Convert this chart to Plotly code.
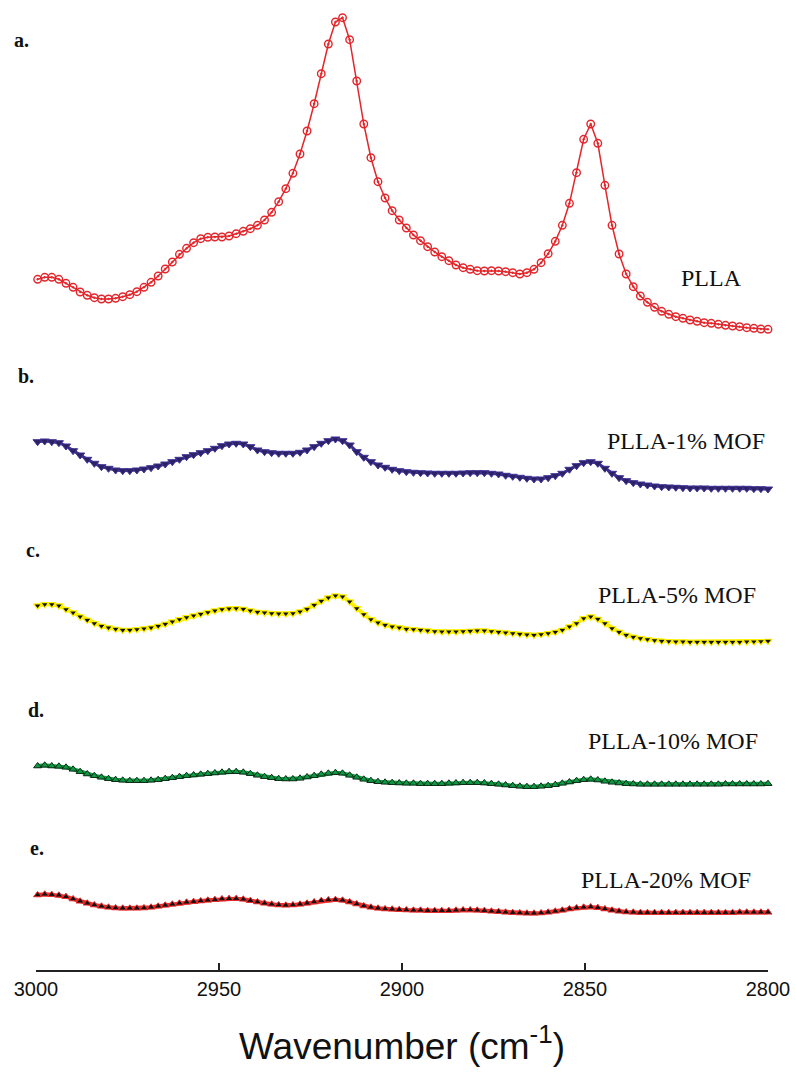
import plotly.graph_objects as go

# Wavenumber grid (cm^-1)
wavenumber = [
    2999.56, 2997.62, 2995.69, 2993.75, 2991.81, 2989.87, 2987.94, 2986.00, 2984.06, 2982.12,
    2980.19, 2978.25, 2976.31, 2974.37, 2972.44, 2970.50, 2968.56, 2966.62, 2964.69, 2962.75,
    2960.81, 2958.87, 2956.94, 2955.00, 2953.06, 2951.12, 2949.19, 2947.25, 2945.31, 2943.37,
    2941.44, 2939.50, 2937.56, 2935.62, 2933.69, 2931.75, 2929.81, 2927.87, 2925.94, 2924.00,
    2922.06, 2920.12, 2918.19, 2916.25, 2914.31, 2912.37, 2910.44, 2908.50, 2906.56, 2904.62,
    2902.69, 2900.75, 2898.81, 2896.87, 2894.94, 2893.00, 2891.06, 2889.12, 2887.19, 2885.25,
    2883.31, 2881.37, 2879.44, 2877.50, 2875.56, 2873.62, 2871.69, 2869.75, 2867.81, 2865.87,
    2863.94, 2862.00, 2860.06, 2858.12, 2856.19, 2854.25, 2852.31, 2850.37, 2848.44, 2846.50,
    2844.56, 2842.62, 2840.69, 2838.75, 2836.81, 2834.87, 2832.94, 2831.00, 2829.06, 2827.12,
    2825.19, 2823.25, 2821.31, 2819.37, 2817.44, 2815.50, 2813.56, 2811.62, 2809.69, 2807.75,
    2805.81, 2803.87, 2801.94, 2800.00,
]

# Stacked (offset) intensities, arbitrary units
plla = [
    690.7, 692.7, 692.7, 690.7, 686.7, 682.7, 678.0, 674.7, 672.3, 671.0,
    671.0, 671.7, 673.3, 675.3, 678.3, 682.7, 687.7, 694.0, 701.0, 708.0,
    715.7, 721.7, 727.3, 731.3, 732.7, 733.0, 733.0, 734.0, 736.3, 738.7,
    741.3, 744.7, 750.0, 757.7, 768.3, 781.3, 796.7, 816.0, 839.0, 866.3,
    896.3, 926.0, 948.0, 952.3, 930.3, 889.0, 846.0, 812.3, 788.3, 772.0,
    759.3, 750.0, 742.0, 735.0, 729.3, 723.3, 718.0, 713.3, 709.3, 705.0,
    702.3, 700.7, 699.3, 699.0, 699.3, 699.0, 698.3, 697.3, 696.0, 697.3,
    700.7, 707.3, 716.3, 728.7, 744.7, 766.7, 797.3, 830.7, 846.0, 826.7,
    784.7, 744.7, 716.0, 696.0, 683.3, 674.0, 667.7, 662.7, 658.7, 655.7,
    653.3, 651.7, 650.0, 648.7, 647.3, 646.7, 645.7, 644.7, 644.0, 643.3,
    642.3, 641.7, 641.0, 640.7,
]

mof1 = [
    528.3, 529.0, 528.3, 527.3, 524.0, 519.3, 515.0, 510.7, 506.7, 503.3,
    501.7, 500.0, 499.3, 499.3, 500.0, 501.0, 502.3, 504.0, 506.0, 508.3,
    510.7, 513.3, 515.3, 517.3, 519.3, 521.7, 524.3, 526.0, 526.7, 526.0,
    523.3, 520.0, 518.3, 517.3, 516.7, 516.7, 516.7, 517.7, 520.0, 523.3,
    526.7, 529.3, 531.0, 529.3, 525.0, 518.3, 512.7, 508.3, 505.0, 502.7,
    500.7, 499.3, 498.3, 497.7, 497.3, 497.0, 496.7, 496.7, 496.7, 496.7,
    497.0, 497.3, 497.3, 497.3, 496.7, 496.0, 494.7, 493.7, 492.7, 491.7,
    491.0, 491.0, 492.3, 494.3, 496.7, 500.7, 504.3, 507.3, 508.3, 506.7,
    501.7, 496.7, 492.3, 489.3, 487.3, 486.0, 485.0, 484.0, 483.3, 483.0,
    482.7, 482.3, 482.0, 482.0, 482.0, 481.7, 481.7, 481.7, 481.7, 481.7,
    481.7, 481.3, 481.3, 481.0,
]

mof5 = [
    364.3, 365.7, 365.7, 364.3, 360.7, 357.3, 353.3, 350.0, 346.7, 344.0,
    342.3, 341.0, 340.0, 340.0, 340.7, 341.3, 342.3, 344.0, 346.0, 348.3,
    350.7, 352.7, 354.3, 356.0, 357.7, 359.3, 360.7, 361.3, 361.7, 361.0,
    359.3, 358.0, 357.3, 356.7, 356.3, 356.3, 356.7, 358.3, 361.0, 365.0,
    369.0, 372.3, 374.3, 373.3, 368.3, 361.7, 355.7, 350.7, 347.3, 345.0,
    343.3, 342.3, 341.0, 340.7, 340.0, 339.3, 338.7, 338.3, 338.3, 338.3,
    338.7, 339.0, 339.3, 339.3, 338.7, 338.0, 337.3, 336.7, 336.0, 335.3,
    335.0, 335.7, 336.7, 338.0, 340.0, 343.3, 346.7, 351.7, 353.3, 351.0,
    346.7, 341.7, 338.0, 335.0, 333.0, 331.7, 330.7, 329.7, 329.0, 328.7,
    328.3, 328.3, 328.0, 328.0, 328.0, 328.0, 328.0, 328.0, 328.0, 328.0,
    328.3, 328.3, 328.7, 329.0,
]

mof10 = [
    204.0, 204.7, 204.0, 203.7, 202.7, 200.7, 198.3, 196.0, 194.3, 192.7,
    191.3, 190.3, 189.7, 189.3, 189.3, 189.3, 189.7, 190.3, 191.3, 192.3,
    193.3, 194.3, 195.0, 195.7, 196.3, 197.0, 197.7, 198.3, 198.3, 197.7,
    196.3, 194.7, 193.3, 192.3, 191.3, 191.0, 191.0, 191.7, 193.0, 194.3,
    195.7, 196.7, 197.3, 196.7, 194.7, 192.7, 190.7, 189.3, 188.3, 187.7,
    187.3, 187.0, 186.7, 186.7, 186.3, 186.3, 186.3, 186.3, 186.7, 187.0,
    187.3, 187.3, 187.3, 187.0, 186.3, 185.7, 185.0, 184.3, 183.7, 183.3,
    183.3, 183.7, 184.3, 185.3, 186.7, 188.0, 189.3, 190.3, 190.7, 190.0,
    188.7, 187.7, 187.0, 186.3, 186.0, 185.7, 185.7, 185.7, 185.7, 185.7,
    185.7, 185.7, 185.7, 185.7, 185.7, 185.7, 185.7, 186.0, 186.0, 186.0,
    186.0, 186.0, 186.0, 186.3,
]

mof20 = [
    75.0, 75.7, 75.3, 74.7, 73.3, 71.0, 68.7, 66.7, 65.0, 63.7,
    62.7, 62.0, 61.7, 61.7, 61.7, 62.0, 62.7, 63.7, 64.7, 65.7,
    66.7, 67.7, 68.3, 69.0, 69.7, 70.3, 71.0, 71.3, 71.3, 70.7,
    69.3, 68.0, 66.7, 65.7, 65.0, 64.7, 65.0, 65.7, 66.7, 68.0,
    69.3, 70.0, 70.3, 69.7, 68.0, 66.0, 64.0, 62.7, 61.7, 61.0,
    60.7, 60.3, 60.0, 59.7, 59.7, 59.3, 59.3, 59.3, 59.3, 59.7,
    60.0, 60.0, 59.7, 59.3, 58.7, 58.3, 57.7, 57.3, 57.0, 56.7,
    56.7, 57.0, 57.7, 58.7, 59.7, 61.0, 62.0, 62.7, 63.0, 62.3,
    61.0, 59.7, 58.7, 58.0, 57.7, 57.3, 57.3, 57.3, 57.3, 57.3,
    57.3, 57.3, 57.3, 57.3, 57.3, 57.3, 57.3, 57.3, 57.3, 57.7,
    57.7, 57.7, 57.7, 57.7,
]

series_names = ["PLLA", "PLLA-1% MOF", "PLLA-5% MOF", "PLLA-10% MOF", "PLLA-20% MOF"]
panel_letters = ["a.", "b.", "c.", "d.", "e."]
x_ticks = [3000, 2950, 2900, 2850, 2800]

fig = go.Figure()

# a. PLLA - red line, open circles with centre dot
fig.add_trace(go.Scatter(
    x=wavenumber, y=plla, mode="lines+markers", name=series_names[0],
    line=dict(color="#e3262b", width=1.5),
    marker=dict(symbol="circle-open-dot", size=7.5, color="#e3262b", line=dict(width=1.4)),
    cliponaxis=False,
))
# b. 1% MOF - dark purple down triangles
fig.add_trace(go.Scatter(
    x=wavenumber, y=mof1, mode="lines+markers", name=series_names[1],
    line=dict(color="#3b2c8a", width=3),
    marker=dict(symbol="triangle-down", size=8, color="#2d2166", line=dict(color="#3f3396", width=1)),
    cliponaxis=False,
))
# c. 5% MOF - yellow line, black down triangles
fig.add_trace(go.Scatter(
    x=wavenumber, y=mof5, mode="lines+markers", name=series_names[2],
    line=dict(color="#fff200", width=4),
    marker=dict(symbol="triangle-down", size=7, color="#111111", line=dict(color="#fff200", width=1.2)),
    cliponaxis=False,
))
# d. 10% MOF - green line, green/black up triangles
fig.add_trace(go.Scatter(
    x=wavenumber, y=mof10, mode="lines+markers", name=series_names[3],
    line=dict(color="#0e9a45", width=4),
    marker=dict(symbol="triangle-up", size=7, color="#0e9a45", line=dict(color="#0b2a14", width=1)),
    cliponaxis=False,
))
# e. 20% MOF - red line, black up triangles
fig.add_trace(go.Scatter(
    x=wavenumber, y=mof20, mode="lines+markers", name=series_names[4],
    line=dict(color="#ee2b2b", width=4),
    marker=dict(symbol="triangle-up", size=7, color="#111111", line=dict(color="#ee2b2b", width=1)),
    cliponaxis=False,
))

# series name labels (right aligned) and panel letters
name_pos = [(2806.5, 692), (2800.2, 529), (2802.7, 375), (2802.1, 229), (2804.0, 90)]
letter_pos = [(-0.033, 930), (-0.027, 594), (-0.016, 420), (-0.014, 260), (-0.011, 122)]
annotations = []
for name, (xx, yy) in zip(series_names, name_pos):
    annotations.append(dict(
        x=xx, y=yy, xref="x", yref="y", text=name, showarrow=False,
        xanchor="right", yanchor="middle",
        font=dict(family="Liberation Serif, Times New Roman, serif", size=24, color="#111111"),
    ))
for letter, (xx, yy) in zip(panel_letters, letter_pos):
    annotations.append(dict(
        x=xx, y=yy, xref="paper", yref="y", text="<b>" + letter + "</b>", showarrow=False,
        xanchor="left", yanchor="middle",
        font=dict(family="Liberation Serif, Times New Roman, serif", size=20, color="#111111"),
    ))

fig.update_layout(
    width=795, height=1077,
    margin=dict(l=36, r=27, t=10, b=107),
    paper_bgcolor="white", plot_bgcolor="white",
    showlegend=False,
    annotations=annotations,
    xaxis=dict(
        range=[3000, 2800],
        tickvals=x_ticks, ticktext=[str(t) for t in x_ticks],
        ticks="inside", ticklen=7, tickwidth=1.5, tickcolor="#222222",
        showline=True, linecolor="#222222", linewidth=1.5,
        showgrid=False, zeroline=False,
        tickfont=dict(family="Liberation Sans, Arial, sans-serif", size=20, color="#111111"),
        title=dict(text="Wavenumber (cm<sup>-1</sup>)", standoff=34,
                   font=dict(family="Liberation Sans, Arial, sans-serif", size=37, color="#111111")),
        automargin=False,
    ),
    yaxis=dict(range=[0, 960], visible=False, showgrid=False, zeroline=False),
)

fig.write_html(
    "out.html",
    config={"displayModeBar": False},
    post_script="document.body.style.margin='0px';document.body.style.overflow='hidden';",
)
